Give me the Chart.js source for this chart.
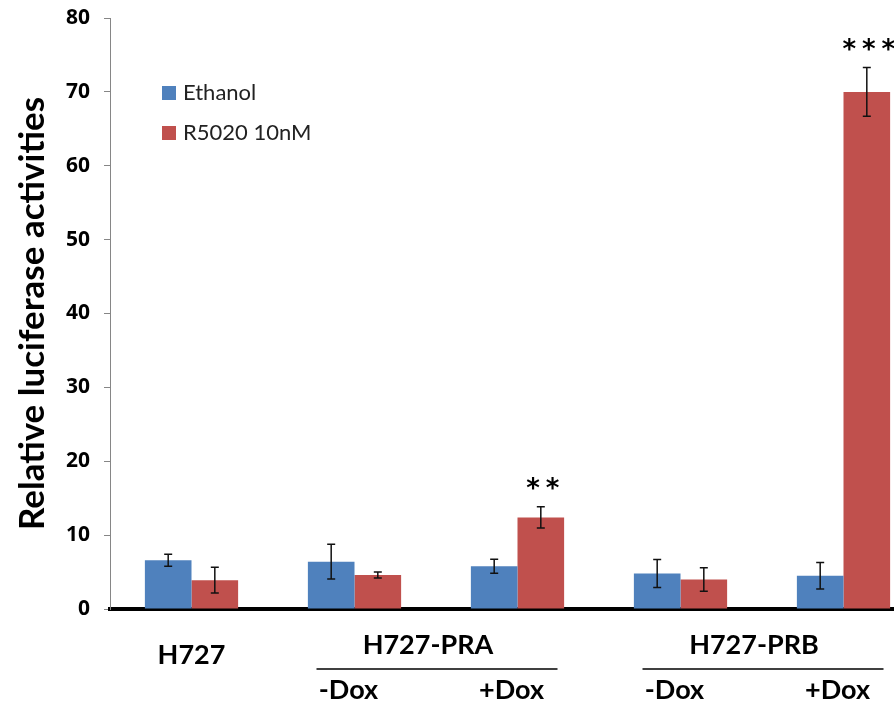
<!DOCTYPE html>
<html>
<head>
<meta charset="utf-8">
<script src="https://cdn.jsdelivr.net/npm/chart.js@4.4.0/dist/chart.umd.min.js"></script>
<style>
  html, body { margin: 0; padding: 0; background: #fff; overflow: hidden; }
  #wrap { width: 925px; height: 706px; }
</style>
</head>
<body>
<div id="wrap"><canvas id="chart" width="925" height="706"></canvas></div>
<script>
// categories and values
const categories = ['H727', 'H727-PRA -Dox', 'H727-PRA +Dox', 'H727-PRB -Dox', 'H727-PRB +Dox'];
const subLabels = ['', '-Dox', '+Dox', '-Dox', '+Dox'];
const groupLabels = ['H727', 'H727-PRA', 'H727-PRB'];
const groupFrom = [0, 1, 3];
const groupTo = [0, 2, 4];

const ethanol = [6.6, 6.4, 5.8, 4.8, 4.5];
const ethanolErr = [0.8, 2.35, 0.95, 1.9, 1.8];
const r5020 = [3.9, 4.6, 12.4, 4.0, 70.0];
const r5020Err = [1.75, 0.4, 1.45, 1.6, 3.3];
const stars = ['', '', '**', '', '***'];

const yTicks = [0, 10, 20, 30, 40, 50, 60, 70, 80];

const blue = '#4F81BD';
const red = '#C0504D';
const fontFam = 'Lato, "Open Sans", sans-serif';

// error bars + significance stars
const errorBars = {
    id: 'errorBars',
    afterDatasetsDraw(chart) {
        const ctx = chart.ctx;
        const y = chart.scales.y;
        ctx.save();
        chart.data.datasets.forEach((ds, di) => {
            const meta = chart.getDatasetMeta(di);
            meta.data.forEach((bar, i) => {
                const v = ds.data[i], e = ds.errors[i];
                const top = y.getPixelForValue(v + e);
                const bot = y.getPixelForValue(v - e);
                ctx.strokeStyle = '#111';
                ctx.lineWidth = 1.5;
                ctx.beginPath();
                ctx.moveTo(bar.x, top); ctx.lineTo(bar.x, bot);
                ctx.moveTo(bar.x - 4, top); ctx.lineTo(bar.x + 4, top);
                ctx.moveTo(bar.x - 4, bot); ctx.lineTo(bar.x + 4, bot);
                ctx.stroke();
                const s = ds.stars ? ds.stars[i] : '';
                if (s) {
                    ctx.fillStyle = '#000';
                    ctx.font = 'bold 26px "DejaVu Sans", sans-serif';
                    ctx.textAlign = 'center';
                    ctx.textBaseline = 'middle';
                    const n = s.length;
                    for (let k = 0; k < n; k++) {
                        ctx.fillText('*', bar.x + 2 + (k - (n - 1) / 2) * 19.5, top - 16);
                    }
                }
            });
        });
        ctx.restore();
    }
};

// category labels under the axis, legend in the plot
const labelsAndLegend = {
    id: 'labelsAndLegend',
    afterDraw(chart) {
        const ctx = chart.ctx;
        const x = chart.scales.x;
        ctx.save();
        ctx.fillStyle = '#000';
        ctx.textAlign = 'center';
        ctx.textBaseline = 'middle';
        ctx.font = 'bold 27px ' + fontFam;
        groupLabels.forEach((g, gi) => {
            const a = x.getPixelForValue(groupFrom[gi]);
            const b = x.getPixelForValue(groupTo[gi]);
            if (groupFrom[gi] === groupTo[gi]) {
                ctx.fillText(g, a, 655);
            } else {
                ctx.fillText(g, (a + b) / 2 - 8, 645);
                ctx.strokeStyle = '#000';
                ctx.lineWidth = 1.5;
                ctx.beginPath();
                ctx.moveTo(a - 38, 669);
                ctx.lineTo(b + 40, 669);
                ctx.stroke();
            }
        });
        subLabels.forEach((s, i) => {
            if (!s) return;
            ctx.fillText(s, x.getPixelForValue(i) - 6, 690);
        });

        // legend
        ctx.font = '22px ' + fontFam;
        ctx.textAlign = 'left';
        chart.data.datasets.forEach((ds, di) => {
            const ly = 93 + di * 40;
            ctx.fillStyle = ds.backgroundColor;
            ctx.fillRect(162, ly - 7, 14, 14);
            ctx.fillStyle = '#222';
            ctx.fillText(ds.label, 183, ly);
        });
        ctx.restore();
    }
};

new Chart(document.getElementById('chart'), {
    type: 'bar',
    data: {
        labels: categories,
        datasets: [
            { label: 'Ethanol', data: ethanol, errors: ethanolErr, backgroundColor: blue,
              barPercentage: 1, categoryPercentage: 0.572 },
            { label: 'R5020 10nM', data: r5020, errors: r5020Err, stars: stars, backgroundColor: red,
              barPercentage: 1, categoryPercentage: 0.572 }
        ]
    },
    options: {
        responsive: false,
        animation: false,
        layout: { padding: { top: 18, right: 0, left: 0, bottom: 0 } },
        plugins: { legend: { display: false }, tooltip: { enabled: false } },
        scales: {
            x: {
                grid: { display: false, drawTicks: false },
                border: { color: '#000', width: 4 },
                ticks: { display: false },
                afterFit: s => { s.height = 97; }
            },
            y: {
                min: 0, max: 80,
                afterBuildTicks: s => { s.ticks = yTicks.map(v => ({ value: v })); },
                grid: { drawOnChartArea: false, drawTicks: true, tickLength: 6, color: '#868686' },
                border: { color: '#868686', width: 1 },
                ticks: { color: '#000', padding: 14, font: { family: '"Open Sans", Lato, sans-serif', size: 21, weight: 'bold' } },
                title: { display: true, text: 'Relative luciferase activities', color: '#000',
                         padding: { top: 12, bottom: 0 },
                         font: { family: fontFam, size: 35, weight: 'bold' } },
                afterFit: s => { s.width = 110; s.paddingTop = 0; s.paddingBottom = 0; }
            }
        }
    },
    plugins: [errorBars, labelsAndLegend]
});
</script>
</body>
</html>
